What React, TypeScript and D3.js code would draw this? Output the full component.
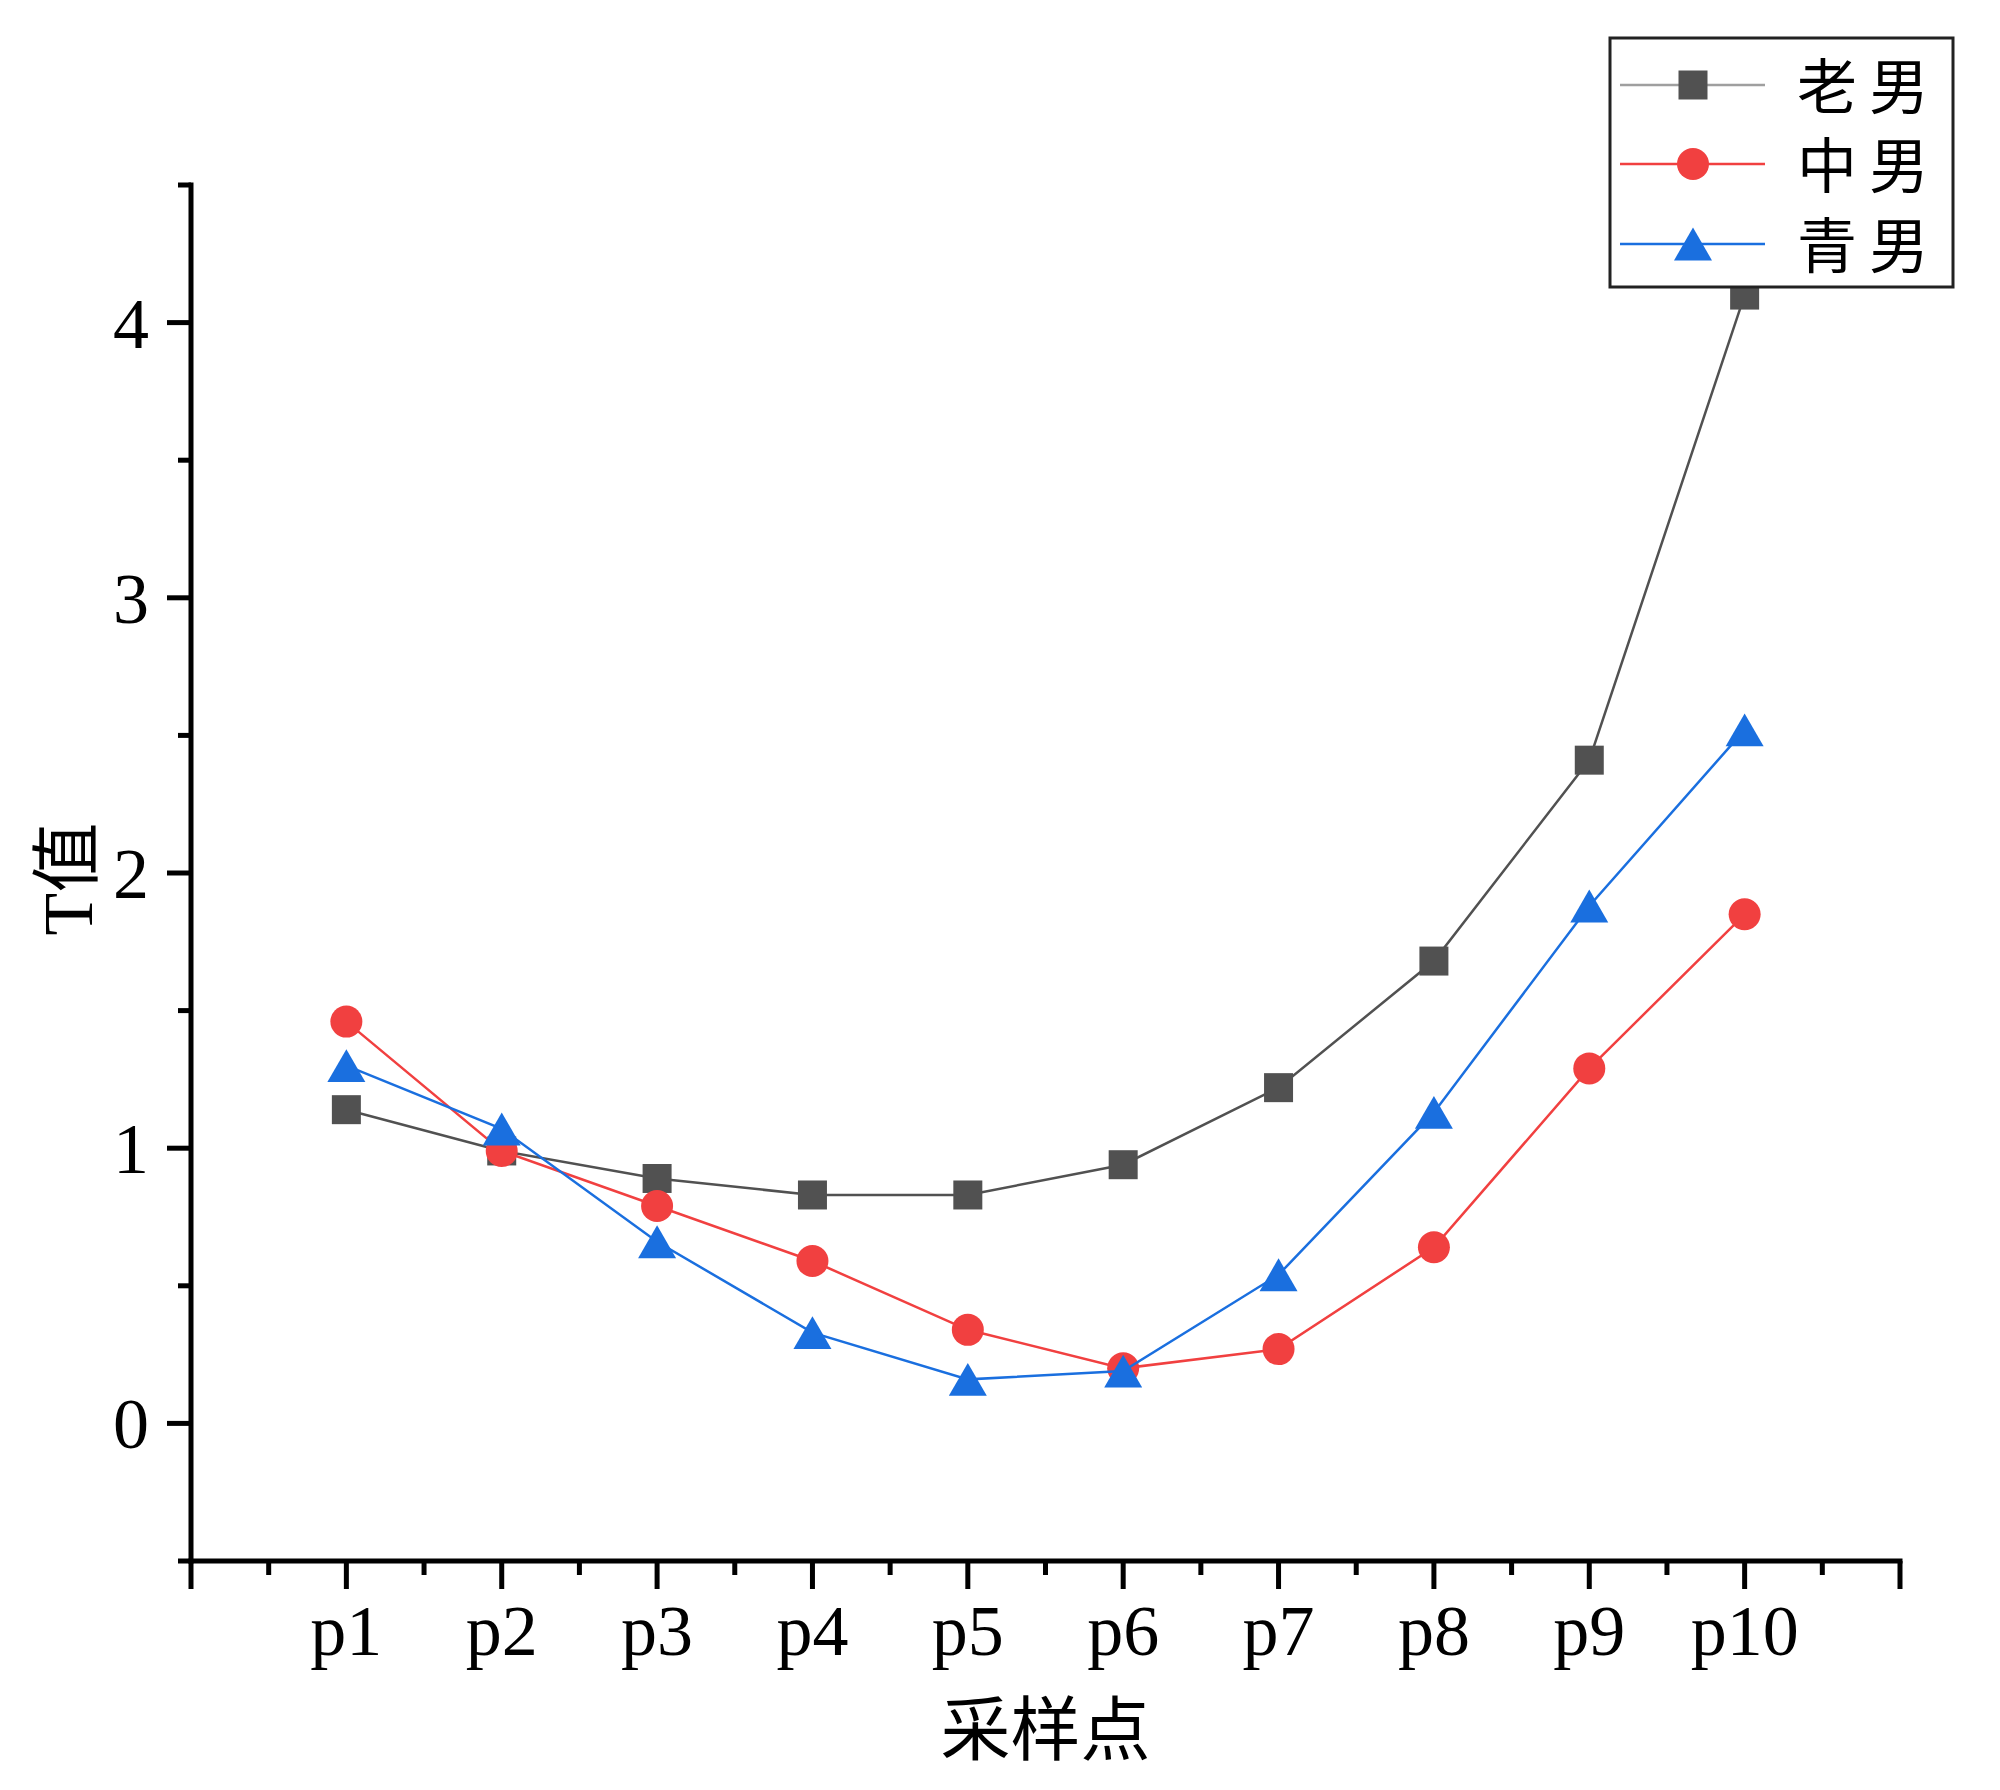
import * as d3 from "d3";

const points = ["p1", "p2", "p3", "p4", "p5", "p6", "p7", "p8", "p9", "p10"];
const oldMen = [1.14, 0.99, 0.89, 0.83, 0.83, 0.94, 1.22, 1.68, 2.41, 4.1];
const midMen = [1.46, 0.99, 0.79, 0.59, 0.34, 0.2, 0.27, 0.64, 1.29, 1.85];
const youngMen = [1.3, 1.07, 0.66, 0.33, 0.16, 0.19, 0.54, 1.13, 1.88, 2.52];
const seriesNames = ["老男", "中男", "青男"];
const yTicks = [0, 1, 2, 3, 4];

const width = 2000;
const height = 1790;
const serif = "'Liberation Serif', 'Times New Roman', 'Noto Sans CJK SC', serif";
const cjk = "'Noto Sans CJK SC', 'Liberation Serif', serif";

const colors = ["#515151", "#F14040", "#1A6FDF"];
const shapes = [d3.symbolSquare, d3.symbolCircle, d3.symbolTriangle];
const sizes = [841, 804, 625];

function Marker({ i, x, y }: { i: number; x: number; y: number }) {
  const path = d3.symbol(shapes[i], sizes[i])() ?? "";
  // shift the triangle so its box, not its centroid, sits on the point
  const dy = i === 2 ? Math.sqrt(sizes[i] / (Math.sqrt(3) * 3)) / 2 : 0;
  return <path d={path} transform={`translate(${x},${y + dy})`} fill={colors[i]} />;
}

export default function App() {
  const x = d3.scaleLinear().domain([0, 11]).range([191, 1900]);
  const y = d3.scaleLinear().domain([-0.5, 4.5]).range([1561, 185]);

  const series = [oldMen, midMen, youngMen];
  const line = d3
    .line<number>()
    .x((_, i) => x(i + 1))
    .y(d => y(d));

  const xMajor = d3.range(0, 12);
  const xMinor = d3.range(0.5, 11, 1);
  const yMinor = d3.range(-0.5, 4.6, 1);

  const legendRows = [85, 164, 244];

  return (
    <svg
      width={width}
      height={height}
      style={{ position: "absolute", left: 0, top: 0, background: "#fff" }}
    >
      {/* series: lines then markers, later series on top */}
      {series.map((vals, si) => (
        <g key={si}>
          <path d={line(vals) ?? ""} fill="none" stroke={colors[si]} strokeWidth={2.5} />
          {vals.map((v, i) => (
            <Marker key={i} i={si} x={x(i + 1)} y={y(v)} />
          ))}
        </g>
      ))}

      {/* axes */}
      <g stroke="#000" strokeWidth={5} strokeLinecap="square">
        <line x1={x(0)} x2={x(0)} y1={y(4.5)} y2={y(-0.5)} />
        <line x1={x(0)} x2={x(11)} y1={y(-0.5)} y2={y(-0.5)} />
        {yTicks.map(t => (
          <line key={`ym${t}`} x1={x(0) - 24} x2={x(0)} y1={y(t)} y2={y(t)} strokeLinecap="butt" />
        ))}
        {yMinor.map(t => (
          <line key={`yn${t}`} x1={x(0) - 13} x2={x(0)} y1={y(t)} y2={y(t)} strokeLinecap="butt" />
        ))}
        {xMajor.map(t => (
          <line key={`xm${t}`} x1={x(t)} x2={x(t)} y1={y(-0.5)} y2={y(-0.5) + 28} strokeLinecap="butt" />
        ))}
        {xMinor.map(t => (
          <line key={`xn${t}`} x1={x(t)} x2={x(t)} y1={y(-0.5)} y2={y(-0.5) + 14} strokeLinecap="butt" />
        ))}
      </g>

      {/* tick labels */}
      <g fontFamily={serif} fontSize={72} fill="#000">
        {yTicks.map(t => (
          <text key={t} x={x(0) - 42} y={y(t) + 25} textAnchor="end">
            {t}
          </text>
        ))}
        {points.map((p, i) => (
          <text key={p} x={x(i + 1)} y={1655} textAnchor="middle">
            {p}
          </text>
        ))}
      </g>

      {/* axis titles */}
      <text
        transform={`translate(92,879) rotate(-90)`}
        textAnchor="middle"
        fontSize={70}
        fontFamily={serif}
      >
        T值
      </text>
      <text x={(x(0) + x(11)) / 2} y={1755} textAnchor="middle" fontSize={70} fontFamily={cjk}>
        采样点
      </text>

      {/* legend */}
      <g>
        <rect x={1610} y={38} width={343} height={249} fill="#fff" stroke="#222" strokeWidth={3} />
        {seriesNames.map((name, i) => (
          <g key={name}>
            <line
              x1={1620}
              x2={1765}
              y1={legendRows[i]}
              y2={legendRows[i]}
              stroke={colors[i]}
              strokeOpacity={i === 0 ? 0.55 : 1}
              strokeWidth={2.5}
            />
            <Marker i={i} x={1693} y={legendRows[i]} />
            <text
              x={1797}
              y={legendRows[i] + 24}
              fontSize={60}
              fontFamily={serif}
              letterSpacing={12}
            >
              {name}
            </text>
          </g>
        ))}
      </g>
    </svg>
  );
}
